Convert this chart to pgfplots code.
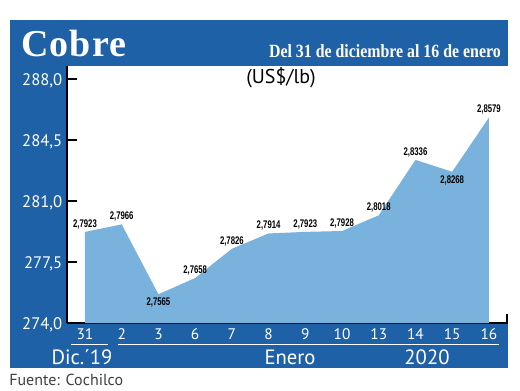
\documentclass[border=0pt]{standalone}
\usepackage{fontspec}
\setmainfont{PT Sans}
\newfontfamily\titlefont{Liberation Serif}[LetterSpace=3]
\newfontfamily\subfont{Liberation Serif}[FakeStretch=0.85]
\newfontfamily\lblfont{Liberation Sans}[FakeStretch=0.7]
\usepackage{pgfplots}
\usepackage{pgfplotstable}
\pgfplotsset{compat=1.18}
\definecolor{frameblue}{RGB}{31,97,166}
\definecolor{areablue}{RGB}{122,178,222}
\pgfplotstableread{
x y l
0 279.23 2,7923
1 279.66 2,7966
2 275.65 2,7565
3 276.58 2,7658
4 278.26 2,7826
5 279.14 2,7914
6 279.23 2,7923
7 279.28 2,7928
8 280.18 2,8018
9 283.36 2,8336
10 282.68 2,8268
11 285.79 2,8579
}\datatab
\pgfplotstableread{
x y l
0 279.23 2,7923
1 279.66 2,7966
3 276.58 2,7658
4 278.26 2,7826
5 279.14 2,7914
6 279.23 2,7923
7 279.28 2,7928
8 280.18 2,8018
9 283.36 2,8336
11 285.79 2,8579
}\abovetab
\pgfplotstableread{
x y l
2 275.65 2,7565
10 282.68 2,8268
}\belowtab
\begin{document}
\begin{tikzpicture}
\path[use as bounding box, fill=white] (0,0) rectangle (390pt,292.5pt);
\begin{scope}[x=0.75pt,y=-0.75pt,yshift=292.5pt]
\fill[frameblue] (10,20) rectangle (508,368);
\end{scope}
\begin{axis}[at={(50.25pt,50.25pt)}, anchor=south west, scale only axis,
  width=330.75pt, height=192.75pt,
  xmin=-0.49, xmax=11.52, ymin=274, ymax=288.75,
  axis x line=bottom, axis y line=left,
  axis line style={-, line width=1.5pt, black},
  axis background/.style={fill=white},
  tick align=inside, major tick length=7.5pt,
  ytick={274,277.5,281,284.5,288},
  y tick style={line width=1.5pt, black},
  x tick style={draw=none},
  xtick={0,...,11}, xticklabels={31,2,3,6,7,8,9,10,13,14,15,16},
  x tick label style={font=\fontsize{11.5}{13}\selectfont, text=white, yshift=-1pt},
  y tick label style={font=\fontsize{12.5}{14}\selectfont, text=white, yshift=-1.5pt},
  /pgf/number format/use comma,
  /pgf/number format/fixed,
  /pgf/number format/fixed zerofill,
  /pgf/number format/precision=1,
  /pgf/number format/assume math mode=true,
]
\addplot[fill=areablue, draw=none] table[x=x,y=y] {\datatab} \closedcycle;
\addplot[draw=none, mark=none, nodes near coords, point meta=explicit symbolic,
  nodes near coords style={font=\lblfont\bfseries\fontsize{8.3}{9}\selectfont, anchor=south, text=black, inner sep=2pt}]
  table[x=x,y=y,meta=l] {\abovetab};
\addplot[draw=none, mark=none, nodes near coords, point meta=explicit symbolic,
  nodes near coords style={font=\lblfont\bfseries\fontsize{8.3}{9}\selectfont, anchor=north, text=black, inner sep=2.5pt}]
  table[x=x,y=y,meta=l] {\belowtab};
\end{axis}
\begin{scope}[x=0.75pt,y=-0.75pt,yshift=292.5pt]
\node[anchor=base west, text=white, inner sep=0pt, font=\titlefont\bfseries\fontsize{28.5}{30}\selectfont] at (21,56.5) {Cobre};
\node[anchor=base east, text=white, inner sep=0pt, font=\subfont\bfseries\fontsize{14}{16}\selectfont] at (501,57) {Del 31 de diciembre al 16 de enero};
\node[font=\fontsize{15}{17}\selectfont] at (281,78) {(US\$/lb)};
\draw[white, line width=1pt] (71,344.5)--(108,344.5) (118,344.5)--(499,344.5);
\node[text=white, font=\fontsize{15.5}{17}\selectfont] at (82,357) {Dic.´19};
\node[text=white, font=\fontsize{15.5}{17}\selectfont] at (290,357) {Enero};
\node[text=white, font=\fontsize{15.5}{17}\selectfont] at (427,357) {2020};
\node[anchor=west, inner sep=0pt, text=black!75, font=\fontsize{12}{14}\selectfont] at (9,380) {Fuente: Cochilco};
\draw[black, line width=1.5pt] (507,323)--(507,314);
\end{scope}
\end{tikzpicture}
\end{document}
